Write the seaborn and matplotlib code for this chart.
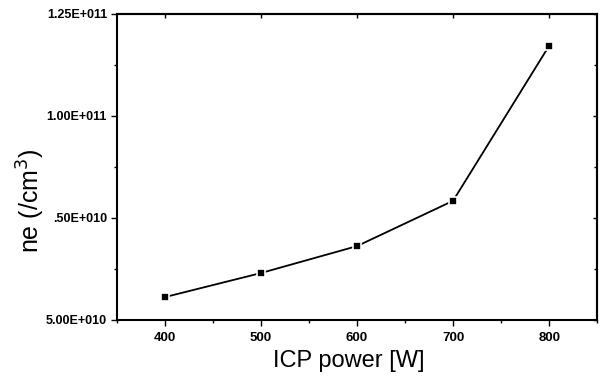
import matplotlib
matplotlib.use("Agg")
import matplotlib.pyplot as plt
import pandas as pd
import seaborn as sns
from matplotlib.ticker import MultipleLocator

sns.set_theme(style="white")
plt.rcParams['font.family'] = ['Liberation Sans', 'DejaVu Sans']

# Data
icp_power = [400, 500, 600, 700, 800]
ne_values = [5.56e10, 6.15e10, 6.81e10, 7.92e10, 11.72e10]

y_ticks = [5.0e10, 7.5e10, 1.0e11, 1.25e11]
y_tick_labels = ["5.00E+010", ".50E+010", "1.00E+011", "1.25E+011"]
x_ticks = [400, 500, 600, 700, 800]

data = pd.DataFrame({"power": icp_power, "ne": ne_values})

fig = plt.figure(figsize=(6.02, 3.76), dpi=100)
ax = fig.add_axes([0.194, 0.149, 0.798, 0.814])

sns.lineplot(x="power", y="ne", data=data, ax=ax, color="black", linewidth=1.3,
             marker="s", markersize=6, markerfacecolor="black",
             markeredgecolor="white", markeredgewidth=1.2)

ax.set_xlim(350, 850)
ax.set_ylim(5.0e10, 1.25e11)
ax.set_xticks(x_ticks)
ax.set_xticklabels([str(v) for v in x_ticks], fontsize=9.5, fontweight="bold")
ax.set_yticks(y_ticks)
ax.set_yticklabels(y_tick_labels, fontsize=9, fontweight="bold")
ax.xaxis.set_minor_locator(MultipleLocator(50))
ax.yaxis.set_minor_locator(MultipleLocator(1.25e10))

for s in ax.spines.values():
    s.set_color("black")
    s.set_linewidth(1.5)

# bottom / left ticks point out, top / right ticks point in
ax.tick_params(which="both", colors="black", width=1,
               bottom=True, left=True, top=False, right=False, direction="out")
ax.tick_params(which="major", length=4)
ax.tick_params(which="minor", length=2)
ax.tick_params(axis="x", which="major", pad=5)
ax.tick_params(axis="y", which="major", pad=3)

top = ax.secondary_xaxis("top")
top.set_xticks(x_ticks)
top.set_xticklabels([])
top.xaxis.set_minor_locator(MultipleLocator(50))
top.tick_params(which="major", direction="in", length=3, width=1, colors="black")
top.tick_params(which="minor", direction="in", length=0)
top.spines["top"].set_linewidth(1.5)

right = ax.secondary_yaxis("right")
right.set_yticks(y_ticks)
right.set_yticklabels([])
right.yaxis.set_minor_locator(MultipleLocator(1.25e10))
right.tick_params(which="major", direction="in", length=3, width=1, colors="black")
right.tick_params(which="minor", direction="in", length=2, width=1, colors="black")
right.spines["right"].set_linewidth(1.5)

ax.set_xlabel("ICP power [W]", fontsize=17, color="black")
ax.xaxis.set_label_coords(0.482, -0.098)
ax.set_ylabel("ne (/cm$^3$)", fontsize=18, color="black")
ax.yaxis.set_label_coords(-0.145, 0.39)
ax.grid(False)

fig.savefig("out.png", dpi=100, facecolor="white")
